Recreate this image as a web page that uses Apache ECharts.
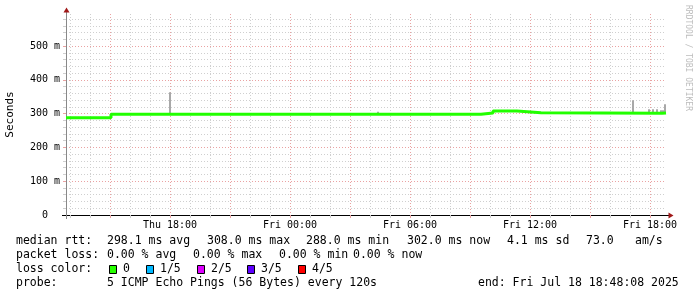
<!DOCTYPE html>
<html><head><meta charset="utf-8">
<script src="https://cdn.jsdelivr.net/npm/echarts@6/dist/echarts.min.js"></script>
<style>html,body{margin:0;padding:0;background:#fff}#c{width:697px;height:297px}</style>
</head><body><div id="c"></div>
<script>
// x values are hours since Thu 00:00
const xStart = 12.8, xEnd = 42.8;
const yMax = 595;
const labelHours = [18, 24, 30, 36, 42];
const tickLabels = ['Thu 18:00', 'Fri 00:00', 'Fri 06:00', 'Fri 12:00', 'Fri 18:00'];
const yMajorTicks = [0, 100, 200, 300, 400, 500];
const yTickLabels = ['0', '100 m', '200 m', '300 m', '400 m', '500 m'];
// median rtt (ms), held from each time until the next
const medianTimes = [12.8, 15.05, 33.55, 34.15, 35.35, 36.55, 42.6, 42.8];
const medianValues = [288, 298, 302, 308, 303, 301, 302, 302];
// smoke (ms)
const smokeTimes = [18.0, 28.4, 41.15, 41.95, 42.15, 42.35, 42.55, 42.65, 42.75];
const smokeLow = [300, 299, 302, 302, 302, 302, 302, 302, 302];
const smokeHigh = [363, 306, 340, 313, 313, 313, 310, 310, 328];
// legend texts
const rttStats = ['298.1 ms avg', '308.0 ms max', '288.0 ms min', '302.0 ms now', '4.1 ms sd', '73.0', 'am/s'];
const lossStats = ['0.00 % avg', '0.00 % max', '0.00 % min', '0.00 % now'];
const lossLabels = ['0', '1/5', '2/5', '3/5', '4/5'];
const lossColors = ['#26ff00', '#00b8ff', '#dd00ff', '#5e00ff', '#ff0000'];
const probeText = '5 ICMP Echo Pings (56 Bytes) every 120s';
const endText = 'end: Fri Jul 18 18:48:08 2025';

const minorHours = [], majorHours = [];
for (let h = 13; h <= 42; h++) { if (h % 3 === 0) majorHours.push(h); else minorHours.push(h); }
const yMinorTicks = [];
for (let v = 20; v < yMax; v += 20) if (v % 100 !== 0) yMinorTicks.push(v);

const MONO = 'DejaVu Sans Mono';
const minorColor = '#cfcfcf', majorColor = '#eaa2a2';

const chart = echarts.init(document.getElementById('c'), null, {renderer: 'canvas'});

const gridAxisX = (vals, color) => ({
  type: 'value', min: xStart, max: xEnd, position: 'bottom', offset: 0,
  axisLine: {show: false},
  axisTick: {show: true, customValues: vals, length: 3, lineStyle: {color: color, width: 1}},
  axisLabel: {show: false},
  splitLine: {show: true, lineStyle: {color: color, width: 1, type: [1, 2]}}
});
const gridAxisY = (vals, color) => ({
  type: 'value', min: 0, max: yMax, position: 'left', offset: 0,
  axisLine: {show: false},
  axisTick: {show: true, customValues: vals, length: 3, lineStyle: {color: color, width: 1}},
  axisLabel: {show: false},
  splitLine: {show: true, lineStyle: {color: color, width: 1, type: [1, 2]}}
});

const LF = '11.5px "' + MONO + '"';
const graphics = [];
const txt = (x, y, s) => graphics.push({
  type: 'text', x: x, y: y,
  style: {text: s, font: LF, fill: '#000', textVerticalAlign: 'middle'}
});
// legend line 1
txt(16, 241.5, 'median rtt:');
[107, 207, 306, 407, 507, 586, 635].forEach((x, i) => txt(x, 241.5, rttStats[i]));
// line 2
txt(16, 255.5, 'packet loss:');
[107, 193, 279, 353].forEach((x, i) => txt(x, 255.5, lossStats[i]));
// line 3
txt(16, 269.5, 'loss color:');
[109, 146, 197, 247, 298].forEach((x, i) => {
  graphics.push({type: 'rect', shape: {x: x + 0.5, y: 265.5, width: 7, height: 8},
    style: {fill: lossColors[i], stroke: '#000', lineWidth: 1}});
  txt(x + 14, 269.5, lossLabels[i]);
});
// line 4
txt(16, 283.5, 'probe:');
txt(107, 283.5, probeText);
txt(478, 283.5, endText);
// watermark
graphics.push({type: 'text', x: 688, y: 5, rotation: -Math.PI / 2,
  style: {text: 'RRDTOOL / TOBI OETIKER', font: '8px "' + MONO + '"', fill: '#bdbdbd', textAlign: 'left', textVerticalAlign: 'middle'}});
// axis extensions and arrows
graphics.push({type: 'line', shape: {x1: 62, y1: 215.5, x2: 66, y2: 215.5}, style: {stroke: '#000', lineWidth: 1}, z: 100});
graphics.push({type: 'line', shape: {x1: 666, y1: 215.5, x2: 669, y2: 215.5}, style: {stroke: '#000', lineWidth: 1}, z: 100});
graphics.push({type: 'line', shape: {x1: 66.5, y1: 10, x2: 66.5, y2: 14}, style: {stroke: '#888', lineWidth: 1}, z: 100});
graphics.push({type: 'line', shape: {x1: 66.5, y1: 215, x2: 66.5, y2: 219}, style: {stroke: '#888', lineWidth: 1}, z: 100});
graphics.push({type: 'polygon', shape: {points: [[63.5, 12.5], [69.5, 12.5], [66.5, 7.5]]}, style: {fill: '#a01818'}, z: 100});
graphics.push({type: 'polygon', shape: {points: [[668.5, 212.5], [668.5, 218.5], [673.5, 215.5]]}, style: {fill: '#a01818'}, z: 100});

chart.setOption({
  animation: false,
  backgroundColor: '#fff',
  grid: {left: 66, top: 14, width: 600, height: 201, containLabel: false, outerBoundsMode: 'none'},
  xAxis: [
    gridAxisX(minorHours, minorColor),
    gridAxisX(majorHours, majorColor),
    {
      type: 'value', min: xStart, max: xEnd, position: 'bottom', offset: 0,
      axisLine: {show: true, lineStyle: {color: '#000', width: 1}},
      axisTick: {show: false, customValues: labelHours},
      axisLabel: {customValues: labelHours, formatter: v => tickLabels[labelHours.indexOf(v)],
        fontFamily: MONO, fontSize: 10, color: '#000', margin: 5},
      splitLine: {show: false}
    }
  ],
  yAxis: [
    gridAxisY(yMinorTicks, minorColor),
    gridAxisY(yMajorTicks.slice(1), majorColor),
    {
      type: 'value', min: 0, max: yMax, position: 'left', offset: 0,
      name: 'Seconds', nameLocation: 'middle', nameGap: 50,
      nameTextStyle: {fontFamily: MONO, fontSize: 11, color: '#000'},
      axisLine: {show: true, lineStyle: {color: '#888', width: 1}},
      axisTick: {show: false, customValues: yMajorTicks},
      axisLabel: {customValues: yMajorTicks, formatter: v => yTickLabels[yMajorTicks.indexOf(v)],
        fontFamily: MONO, fontSize: 10, color: '#000', align: 'center', margin: 21},
      splitLine: {show: false}
    }
  ],
  series: [
    {
      type: 'custom', xAxisIndex: 2, yAxisIndex: 2, z: 3,
      data: smokeTimes.map((t, i) => [t, smokeLow[i], smokeHigh[i]]),
      renderItem: (params, api) => {
        const lo = api.coord([api.value(0), api.value(1)]);
        const hi = api.coord([api.value(0), api.value(2)]);
        return {type: 'rect', shape: {x: Math.round(lo[0]) - 1, y: hi[1], width: 2, height: lo[1] - hi[1]},
          style: {fill: '#a8a8a8'}};
      }
    },
    {
      type: 'line', xAxisIndex: 2, yAxisIndex: 2, z: 4, step: 'end',
      symbol: 'none', silent: true,
      data: medianTimes.map((t, i) => [t, medianValues[i]]),
      lineStyle: {color: '#22ff00', width: 3}
    }
  ],
  graphic: graphics
});
</script></body></html>
